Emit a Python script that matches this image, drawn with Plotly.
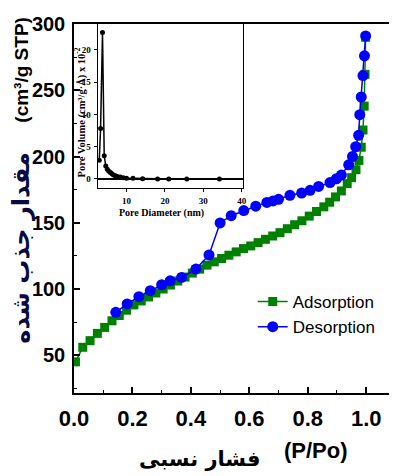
import plotly.graph_objects as go

# ---------------- data ----------------
ads_p = [0.005, 0.03, 0.055, 0.08, 0.105, 0.13, 0.155, 0.18, 0.205, 0.23, 0.255, 0.28,
         0.305, 0.33, 0.355, 0.38, 0.405, 0.43, 0.455, 0.48, 0.505, 0.53, 0.555, 0.58,
         0.605, 0.63, 0.655, 0.68, 0.705, 0.73, 0.755, 0.78, 0.805, 0.83, 0.855, 0.875,
         0.895, 0.915, 0.935, 0.95, 0.965, 0.975, 0.983, 0.989, 0.993, 0.996, 0.998]
ads_v = [45, 56, 61, 66.5, 71, 76, 80, 84, 88, 91, 94, 97,
         100, 103, 106, 109, 112, 115, 118, 120.5, 123, 125.5, 128, 130.5,
         132.5, 135, 137.5, 140, 142.5, 145.5, 148.5, 151.5, 155, 158.5, 162, 165.5,
         169.5, 174, 179.5, 184, 190, 197, 207, 220, 238, 262, 290]

des_p = [0.143, 0.182, 0.222, 0.261, 0.300, 0.329, 0.368, 0.417, 0.462, 0.500, 0.538,
         0.581, 0.622, 0.660, 0.681, 0.700, 0.739, 0.779, 0.808, 0.837, 0.876, 0.898,
         0.915, 0.940, 0.953, 0.964, 0.974, 0.978, 0.983, 0.989, 0.994, 0.998]
des_v = [82.4, 88.7, 94.2, 98.7, 103.2, 106.2, 108.7, 115.0, 125.7, 149.9, 155.3,
         159.2, 162.5, 165.3, 166.5, 167.7, 170.7, 172.4, 174.5, 177.4, 180.3, 183.2,
         186.0, 193.7, 200.0, 207.4, 216.0, 231.6, 244.9, 261.1, 276.0, 291.0]

pore_d = [2.9, 3.25, 3.75, 4.2, 4.6, 5.0, 5.4, 5.8, 6.2, 6.6, 7.1, 7.6, 8.4, 9.2, 10.0,
          11.7, 14.2, 18.1, 21.0, 25.7, 34.2]
pore_v = [2.9, 7.8, 22.7, 3.6, 2.0, 1.5, 1.2, 1.0, 0.8, 0.6, 0.5, 0.4, 0.3, 0.2, 0.1,
          0.1, 0.05, 0.0, 0.0, 0.0, 0.0]

x_ticks = [0.0, 0.2, 0.4, 0.6, 0.8, 1.0]
x_ticktext = ["0.0", "0.2", "0.4", "0.6", "0.8", "1.0"]
y_ticks = [50, 100, 150, 200, 250, 300]
inset_xticks = [10, 20, 30, 40]
inset_yticks = [0, 5, 10, 15, 20]

# ---------------- layout geometry ----------------
W, H = 393, 476
L, R, T, B = 74, 0, 24, 83
PW, PH = W - L - R, H - T - B


def px2x(px):
    return (px - L) / PW


def py2y(py):
    return (H - B - py) / PH


fig = go.Figure()
fig.add_trace(go.Scatter(
    x=ads_p, y=ads_v, mode="lines+markers", name="Adsorption",
    line=dict(color="#008000", width=1.5),
    marker=dict(symbol="square", size=9, color="#008000")))
fig.add_trace(go.Scatter(
    x=des_p, y=des_v, mode="lines+markers", name="Desorption",
    line=dict(color="#0000ff", width=1.5),
    marker=dict(symbol="circle", size=11, color="#0000ff")))
fig.add_trace(go.Scatter(
    x=pore_d, y=pore_v, xaxis="x2", yaxis="y2", mode="lines+markers",
    showlegend=False,
    line=dict(color="black", width=1.5),
    marker=dict(symbol="circle", size=5, color="black")))

fig.update_layout(
    width=W, height=H,
    margin=dict(l=L, r=R, t=T, b=B, pad=0),
    paper_bgcolor="white", plot_bgcolor="white",
    showlegend=True,
    legend=dict(x=px2x(255), y=py2y(284), xanchor="left", yanchor="top",
                font=dict(family="Arial", size=17, color="black"),
                bgcolor="rgba(0,0,0,0)", tracegroupgap=0, itemwidth=30),
    xaxis=dict(domain=[0, 1], range=[0, 1.078], tickvals=x_ticks, ticktext=x_ticktext,
               ticks="inside", ticklen=6, tickwidth=1.5, tickcolor="black",
               minor=dict(dtick=0.1, tick0=0, ticks="inside", ticklen=3, tickwidth=1.2,
                          tickcolor="black"),
               showline=True, linecolor="black", linewidth=1.5, mirror=True,
               showgrid=False, zeroline=False,
               tickfont=dict(family="Arial", size=22, color="black", weight="bold"),
               ticklabelstandoff=5),
    yaxis=dict(domain=[0, 1], range=[21.5, 300], tickvals=y_ticks,
               ticks="inside", ticklen=6, tickwidth=1.5, tickcolor="black",
               minor=dict(dtick=25, tick0=0, ticks="inside", ticklen=3, tickwidth=1.2,
                          tickcolor="black"),
               showline=True, linecolor="black", linewidth=1.5, mirror=False,
               showgrid=False, zeroline=False,
               tickfont=dict(family="Arial", size=20, color="black", weight="bold"),
               ticklabelstandoff=3),
    xaxis2=dict(domain=[px2x(98), px2x(245)], anchor="y2", range=[2.5, 40.3],
                tickvals=inset_xticks, ticks="outside", ticklen=3, tickwidth=1,
                tickcolor="black", showline=True, linecolor="black", linewidth=1.2,
                mirror=True, showgrid=False, zeroline=False,
                tickfont=dict(family="Times New Roman", size=9, color="black",
                              weight="bold"),
                ticklabelstandoff=1),
    yaxis2=dict(domain=[py2y(188), 1.0], anchor="x2", range=[-1.4, 24],
                tickvals=inset_yticks, ticks="outside", ticklen=3, tickwidth=1,
                tickcolor="black", showline=True, linecolor="black", linewidth=1.2,
                mirror=True, showgrid=False, zeroline=True, zerolinecolor="black",
                zerolinewidth=1.5,
                tickfont=dict(family="Times New Roman", size=9, color="black",
                              weight="bold"),
                ticklabelstandoff=1),
)

y_title_fa = "مقدار جذب شده"
x_title_fa = "فشار نسبی"

annots = [
    dict(text="Pore Volume (cm³/g·Å) x 10<sup>-2</sup>", x=px2x(80.5), y=py2y(112),
         textangle=-90, font=dict(family="Times New Roman", size=10.5, color="black",
                                  weight="bold")),
    dict(text="Pore Diameter (nm)", x=px2x(163), y=py2y(213),
         font=dict(family="Times New Roman", size=10, color="black", weight="bold")),
    dict(text="(cm³/g STP)", x=px2x(20), y=py2y(70), textangle=-90,
         font=dict(family="Arial", size=19, color="black", weight="bold")),
    dict(text=y_title_fa, x=px2x(20), y=py2y(248), textangle=-90,
         font=dict(family="DejaVu Sans", size=24, color="#0a0a40", weight="bold")),
    dict(text=x_title_fa, x=px2x(201), y=py2y(459),
         font=dict(family="DejaVu Sans", size=21, color="black", weight="bold")),
    dict(text="(P/Po)", x=px2x(319), y=py2y(450),
         font=dict(family="Arial", size=22, color="black", weight="bold")),
]
for a in annots:
    a.update(xref="paper", yref="paper", xanchor="center", yanchor="middle",
             showarrow=False)
fig.update_layout(annotations=annots)

fig.write_html("out.html")
